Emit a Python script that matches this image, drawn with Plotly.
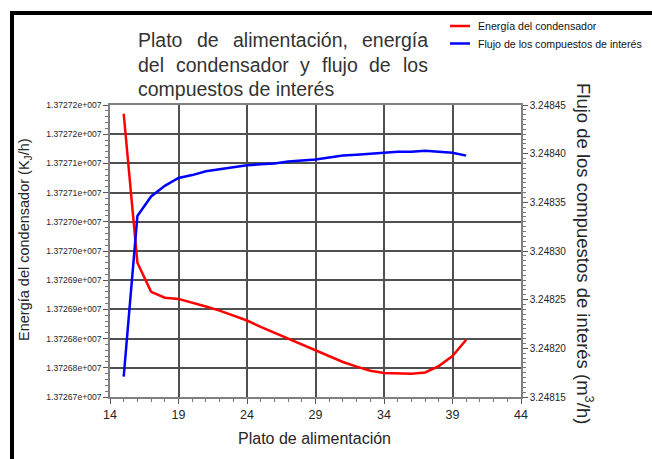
import plotly.graph_objects as go

# ---------------- data ----------------
plato = [15, 16, 17, 18, 19, 20, 21, 22, 23, 24, 25, 26, 27, 28, 29, 30,
         31, 32, 33, 34, 35, 36, 37, 38, 39, 40]

energia = [13727185, 13726930, 13726880, 13726870, 13726868, 13726862,
           13726855, 13726848, 13726840, 13726831, 13726820, 13726810,
           13726800, 13726790, 13726780, 13726770, 13726760, 13726752,
           13726745, 13726741, 13726740, 13726740, 13726742, 13726753,
           13726770, 13726798]

flujo = [3.248171, 3.248336, 3.248356, 3.248367, 3.248375, 3.248378,
         3.248382, 3.248384, 3.248386, 3.248388, 3.248389, 3.248390,
         3.248392, 3.248393, 3.248394, 3.248396, 3.248398, 3.248399,
         3.248400, 3.248401, 3.248402, 3.248402, 3.248403, 3.248402,
         3.248401, 3.248398]

x_ticks = [14, 19, 24, 29, 34, 39, 44]

y1_tickvals = [13726700, 13726750, 13726800, 13726850, 13726900, 13726950,
               13727000, 13727050, 13727100, 13727150, 13727200]
y1_ticktext = ["1.37267e+007", "1.37268e+007", "1.37268e+007", "1.37269e+007",
               "1.37269e+007", "1.37270e+007", "1.37270e+007", "1.37271e+007",
               "1.37271e+007", "1.37272e+007", "1.37272e+007"]

y2_tickvals = [3.24815, 3.24820, 3.24825, 3.24830, 3.24835, 3.24840, 3.24845]
y2_ticktext = ["3.24815", "3.24820", "3.24825", "3.24830", "3.24835",
               "3.24840", "3.24845"]

serie_energia = "Energía del condensador"
serie_flujo = "Flujo de los compuestos de interés"

# ---------------- layout geometry (pixels) ----------------
W, H = 652, 459
L, R, T, B = 110, 131, 105, 62
PW, PH = W - L - R, H - T - B


def px(xp):
    return (xp - L) / PW


def py(yp):
    return (H - B - yp) / PH


RED = "#ff0000"
BLUE = "#0000ff"
TXT = "#262626"
SANS = "Liberation Sans, Arial, sans-serif"

fig = go.Figure()
fig.add_trace(go.Scatter(x=plato, y=energia, name=serie_energia, mode="lines",
                         line=dict(color=RED, width=2.5), yaxis="y"))
fig.add_trace(go.Scatter(x=plato, y=flujo, name=serie_flujo, mode="lines",
                         line=dict(color=BLUE, width=2.5), yaxis="y2"))

fig.update_layout(
    width=W, height=H,
    margin=dict(l=L, r=R, t=T, b=B, pad=0),
    paper_bgcolor="white", plot_bgcolor="white",
    showlegend=False,
    xaxis=dict(range=[14, 44], tickvals=x_ticks, ticks="outside", ticklen=5,
               tickcolor="#555", showline=True, linecolor="#808080", linewidth=1.5,
               mirror=True, showgrid=True, gridcolor="#505050", gridwidth=2,
               zeroline=False, tickfont=dict(family=SANS, size=12.5, color=TXT),
               minor=dict(dtick=1, ticks="outside", ticklen=3, tickcolor="#777",
                          showgrid=False)),
    yaxis=dict(range=[13726700, 13727200], tickvals=y1_tickvals,
               ticktext=y1_ticktext, ticks="outside", ticklen=5, tickcolor="#555",
               showline=True, linecolor="#808080", linewidth=1.5,
               showgrid=True, gridcolor="#505050", gridwidth=2, zeroline=False,
               tickfont=dict(family=SANS, size=8.6, color=TXT),
               minor=dict(dtick=10, ticks="outside", ticklen=3, tickcolor="#777",
                          showgrid=False)),
    yaxis2=dict(range=[3.24815, 3.24845], overlaying="y", side="right",
                tickvals=y2_tickvals, ticktext=y2_ticktext, ticks="outside",
                ticklen=5, tickcolor="#555", showline=True, linecolor="#808080",
                linewidth=1.5, showgrid=False, zeroline=False,
                tickfont=dict(family=SANS, size=10, color=TXT),
                minor=dict(dtick=0.000005, ticks="outside", ticklen=3,
                           tickcolor="#777", showgrid=False)),
)

annotations = []
# axis titles
annotations.append(dict(text="Plato de alimentación", x=px(314), y=py(438),
                        xref="paper", yref="paper", xanchor="center", yanchor="middle",
                        showarrow=False, font=dict(family=SANS, size=16, color=TXT)))
annotations.append(dict(text="Energía del condensador (K<sub>J</sub>/h)", x=px(25),
                        y=py(240), xref="paper", yref="paper", xanchor="center",
                        yanchor="middle", textangle=-90, showarrow=False,
                        font=dict(family=SANS, size=14.5, color=TXT)))
annotations.append(dict(text="Flujo de los compuestos de interés (m<sup>3</sup>/h)",
                        x=px(585), y=py(253), xref="paper", yref="paper",
                        xanchor="center", yanchor="middle", textangle=90,
                        showarrow=False, font=dict(family=SANS, size=18.5, color=TXT)))

# justified title (word by word)
title_words = [
    ("Plato", 136, 40), ("de", 195, 40), ("alimentación,", 231, 40), ("energía", 360, 40),
    ("del", 136, 65), ("condensador", 174, 65), ("y", 298, 65), ("flujo", 320, 65),
    ("de", 367, 65), ("los", 401, 65),
    ("compuestos de interés", 136, 89),
]
for w, xp, yp in title_words:
    annotations.append(dict(text=w, x=px(xp), y=py(yp), xref="paper", yref="paper",
                            xanchor="left", yanchor="middle", showarrow=False,
                            font=dict(family=SANS, size=19.5, color="#333")))

# legend
legend_items = [(serie_energia, RED, 26), (serie_flujo, BLUE, 43.5)]
shapes = []
for name, col, yp in legend_items:
    shapes.append(dict(type="line", xref="paper", yref="paper", x0=px(450), x1=px(470),
                       y0=py(yp), y1=py(yp), line=dict(color=col, width=2.5)))
    annotations.append(dict(text=name, x=px(476), y=py(yp), xref="paper", yref="paper",
                            xanchor="left", yanchor="middle", showarrow=False,
                            font=dict(family=SANS, size=10.6, color="#111")))

# black frame (top and left)
shapes.append(dict(type="rect", xref="paper", yref="paper", x0=px(10), x1=px(14),
                   y0=py(459), y1=py(11), fillcolor="black", line=dict(width=0)))
shapes.append(dict(type="rect", xref="paper", yref="paper", x0=px(10), x1=px(652),
                   y0=py(15), y1=py(11), fillcolor="black", line=dict(width=0)))

fig.update_layout(annotations=annotations, shapes=shapes)
fig.write_html("out.html", config={"displayModeBar": False},
               post_script="document.body.style.margin='0';")
